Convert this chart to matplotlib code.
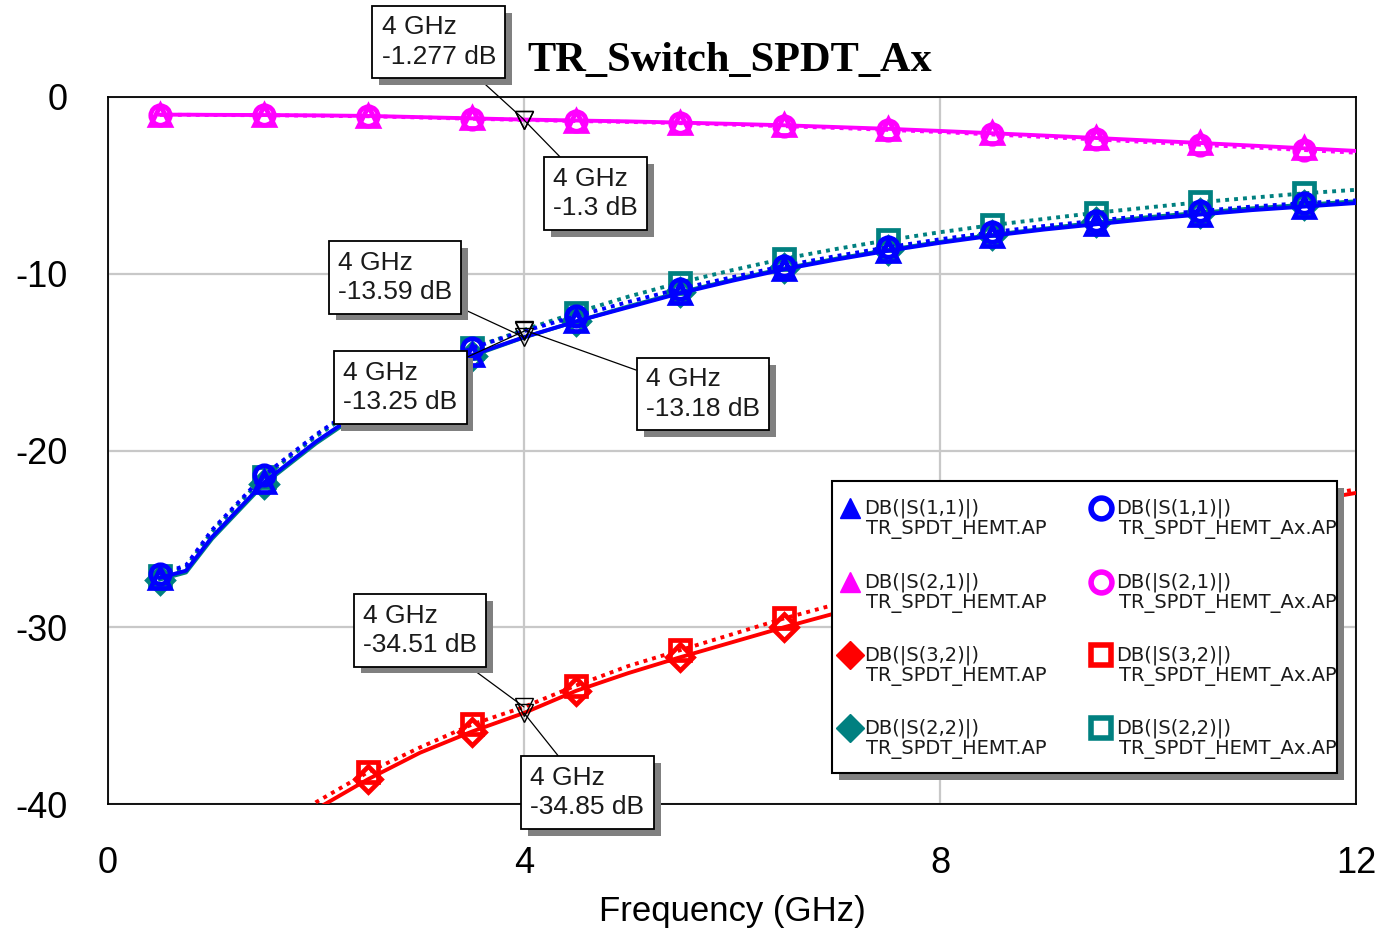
import matplotlib
matplotlib.use("Agg")
import matplotlib.pyplot as plt
import matplotlib.patheffects as pe
from matplotlib.patches import Rectangle
from matplotlib.lines import Line2D

plt.rcParams["axes.unicode_minus"] = False

# frequency sweep (GHz)
freq = [0.5, 0.75, 1.0, 1.5, 2.0, 2.5, 3.0, 3.5, 4.0, 4.5, 5.0, 5.5, 6.0, 6.5,
        7.0, 7.5, 8.0, 8.5, 9.0, 9.5, 10.0, 10.5, 11.0, 11.5, 12.0]

# TR_SPDT_HEMT.AP
s11_hemt = [-27.2, -26.8, -24.9, -21.8, -19.5, -17.5, -15.9, -14.6, -13.59, -12.7, -11.9,
            -11.1, -10.4, -9.75, -9.2, -8.7, -8.25, -7.85, -7.5, -7.2, -6.9, -6.65,
            -6.4, -6.2, -6.0]
s21_hemt = [-1.0, -1.0, -1.01, -1.02, -1.04, -1.07, -1.14, -1.21, -1.277, -1.33, -1.38,
            -1.45, -1.52, -1.6, -1.7, -1.8, -1.92, -2.05, -2.18, -2.32, -2.46, -2.6,
            -2.75, -2.9, -3.05]
s32_hemt = [-50.5, -48.3, -46.0, -42.8, -40.3, -38.6, -37.1, -35.9, -34.85, -33.6, -32.6,
            -31.7, -30.85, -30.0, -29.2, -28.4, -27.6, -26.8, -26.1, -25.4, -24.7,
            -24.1, -23.5, -22.9, -22.4]
s22_hemt = [-27.3, -26.9, -25.0, -21.9, -19.6, -17.6, -16.0, -14.65, -13.6, -12.7, -11.85,
            -11.05, -10.35, -9.7, -9.15, -8.65, -8.2, -7.8, -7.45, -7.1, -6.8, -6.55,
            -6.3, -6.1, -5.9]

# TR_SPDT_HEMT_Ax.AP
s11_ax = [-27.0, -26.5, -24.5, -21.4, -19.1, -17.1, -15.5, -14.2, -13.25, -12.4, -11.6,
          -10.85, -10.2, -9.55, -9.0, -8.5, -8.05, -7.65, -7.3, -7.0, -6.7, -6.45,
          -6.2, -6.0, -5.85]
s21_ax = [-1.01, -1.01, -1.02, -1.03, -1.06, -1.09, -1.16, -1.23, -1.3, -1.36, -1.41,
          -1.48, -1.56, -1.65, -1.75, -1.86, -1.98, -2.12, -2.26, -2.4, -2.55, -2.7,
          -2.85, -3.0, -3.15]
s32_ax = [-50.0, -47.8, -45.5, -42.3, -39.9, -38.2, -36.8, -35.5, -34.51, -33.3, -32.2,
          -31.3, -30.4, -29.5, -28.7, -27.9, -27.1, -26.4, -25.7, -25.0, -24.4, -23.8,
          -23.2, -22.7, -22.2]
s22_ax = [-27.1, -26.6, -24.6, -21.5, -19.2, -17.2, -15.5, -14.2, -13.18, -12.2, -11.3,
          -10.5, -9.8, -9.15, -8.6, -8.1, -7.65, -7.25, -6.9, -6.55, -6.25, -5.95,
          -5.7, -5.45, -5.25]

# marker read-outs at 4 GHz: (value, label box centre x, label box centre y)
readouts = [
    (-1.277, 3.18, 3.11),
    (-1.3, 4.69, -5.46),
    (-13.59, 2.76, -10.21),
    (-13.25, 2.81, -16.44),
    (-13.18, 5.72, -16.80),
    (-34.51, 3.0, -30.18),
    (-34.85, 4.61, -39.35),
]

W, H = 1384, 930
fig = plt.figure(figsize=(W / 100, H / 100), dpi=100)
ax = fig.add_axes([108 / W, 1 - 804 / H, (1356 - 108) / W, (804 - 97) / H])

mark_idx = [i for i, f in enumerate(freq) if (f - 0.5) % 1 == 0]
dotted = (0, (1, 1.3))

traces = [
    (s32_hemt, "red", "D", "-", 13),
    (s32_ax, "red", "s", dotted, 14),
    (s22_hemt, "#008080", "D", "-", 13),
    (s22_ax, "#008080", "s", dotted, 14),
    (s11_hemt, "blue", "^", "-", 15),
    (s11_ax, "blue", "o", dotted, 14),
    (s21_hemt, "magenta", "^", "-", 15),
    (s21_ax, "magenta", "o", dotted, 14),
]
for vals, col, mk, ls, ms in traces:
    ax.plot(freq, vals, color=col, ls=ls, lw=2.8, marker=mk, ms=ms, mfc="none",
            mew=3.4, markevery=mark_idx, zorder=3)

ax.set_xlim(0, 12)
ax.set_ylim(-40, 0)
ax.set_xticks([0, 4, 8, 12])
ax.set_yticks([0, -10, -20, -30, -40])
ax.grid(True, color="#c8c8c8", lw=1.6)
ax.tick_params(length=0, labelsize=26)
ax.tick_params(axis="x", pad=30)
ax.tick_params(axis="y", pad=29)
for lab in ax.get_xticklabels() + ax.get_yticklabels():
    lab.set_fontfamily("Liberation Sans")
for sp in ax.spines.values():
    sp.set_linewidth(1.3)
ax.set_xlabel("Frequency (GHz)", fontsize=25, family="Liberation Sans", labelpad=10)

fig.text(527 / W, 1 - 61 / H, "TR_Switch_SPDT_Ax", fontsize=30.5, fontweight="bold",
         family="Liberation Serif", ha="left", va="center")

# 4 GHz read-out boxes with leader lines
shadow = [pe.SimplePatchShadow(offset=(5, -5), shadow_rgbFace="#808080", alpha=1.0),
          pe.Normal()]
for val, bx, by in readouts:
    ax.plot(4, val, marker="v", ms=13, mfc="none", mec="black", mew=1.0,
            zorder=6, clip_on=False)
    t = ax.annotate("4 GHz\n%s dB" % val, xy=(4, val), xytext=(bx, by),
                    ha="center", va="center", multialignment="left",
                    fontsize=19, family="Liberation Sans", linespacing=1.3,
                    color="#1a1a1a", zorder=8, annotation_clip=False,
                    bbox=dict(boxstyle="square,pad=0.35", fc="white", ec="black", lw=1.3),
                    arrowprops=dict(arrowstyle="-", color="black", lw=0.9,
                                    shrinkA=0, shrinkB=0))
    t.get_bbox_patch().set_path_effects(shadow)


# legend drawn in figure pixels
def fx(x):
    return x / W


def fy(y):
    return 1 - y / H


fig.add_artist(Rectangle((fx(839), fy(780)), fx(505), 292 / H, transform=fig.transFigure,
                         fc="#808080", ec="none", zorder=9))
fig.add_artist(Rectangle((fx(832), fy(773)), fx(505), 292 / H, transform=fig.transFigure,
                         fc="white", ec="black", lw=1.5, zorder=10))

leg_names = ["DB(|S(1,1)|)", "DB(|S(2,1)|)", "DB(|S(3,2)|)", "DB(|S(2,2)|)"]
leg_cols = ["blue", "magenta", "red", "#008080"]
leg_mk_hemt = ["^", "^", "D", "D"]
leg_mk_ax = ["o", "o", "s", "s"]
row_y = [508, 582, 655, 728]
leg_font = dict(fontsize=14, family="DejaVu Sans", color="#1a1a1a", ha="left",
                va="center", zorder=12)
for name, col, m1, m2, y in zip(leg_names, leg_cols, leg_mk_hemt, leg_mk_ax, row_y):
    fig.add_artist(Line2D([fx(850)], [fy(y)], transform=fig.transFigure, marker=m1,
                          ms=14, color=col, mec=col, zorder=11))
    fig.add_artist(Line2D([fx(1101)], [fy(y)], transform=fig.transFigure, marker=m2,
                          ms=15, color=col, mfc="none", mec=col, mew=4, zorder=11))
    fig.text(fx(864), fy(y), name, **leg_font)
    fig.text(fx(866), fy(y + 21), "TR_SPDT_HEMT.AP", **leg_font)
    fig.text(fx(1116), fy(y), name, **leg_font)
    fig.text(fx(1119), fy(y + 21), "TR_SPDT_HEMT_Ax.AP", **leg_font)

fig.savefig("out.png", dpi=100)
